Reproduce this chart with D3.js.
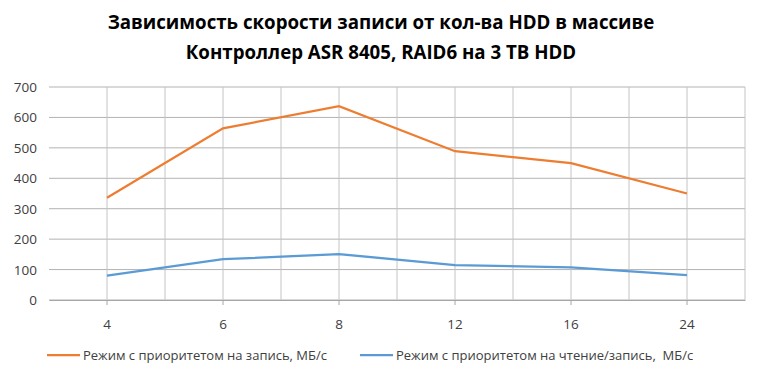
<!DOCTYPE html>
<html lang="ru">
  <head>
    <meta charset="utf-8">
    <script src="https://d3js.org/d3.v7.min.js"></script>
    <style>
      body { margin: 0; background: #fff; }
      text { font-family: "Open Sans", sans-serif; fill: #404040; }
    </style>
  </head>
  <body>
    <svg width="760" height="378"></svg>
    <script>
      // data
      var categories = ["4", "6", "8", "12", "16", "24"];
      var writeSpeed = [336, 564, 637, 489, 450, 350];
      var readWriteSpeed = [80, 134, 151, 115, 107, 82];
      var yTicks = [0, 100, 200, 300, 400, 500, 600, 700];
      var titleLines = ["Зависимость скорости записи от кол-ва HDD в массиве",
                        "Контроллер ASR 8405, RAID6 на 3 TB HDD"];
      var seriesNames = ["Режим с приоритетом на запись, МБ/с",
                         "Режим с приоритетом на чтение/запись,  МБ/с"];
      var colors = ["#ED7D31", "#5B9BD5"];

      var svg = d3.select("svg");
      // plot area
      var pLeft = 49, pRight = 745, pTop = 87, pBottom = 300;

      var x = d3.scaleBand().domain(categories).range([pLeft, pRight]);
      var y = d3.scaleLinear().domain([0, 700]).range([pBottom, pTop]);

      // title
      svg.selectAll(".title")
        .data(titleLines)
        .enter()
        .append("text")
        .attr("class", "title")
        .attr("x", 381)
        .attr("y", function (d, i) { return 29 + i * 30; })
        .attr("text-anchor", "middle")
        .style("font-size", "18.7px")
        .style("font-weight", "bold")
        .style("fill", "#000")
        .text(function (d) { return d; });

      // horizontal grid
      svg.append("g")
        .selectAll("line")
        .data(yTicks)
        .enter()
        .append("line")
        .attr("x1", pLeft).attr("x2", pRight)
        .attr("y1", function (d) { return y(d); })
        .attr("y2", function (d) { return y(d); })
        .style("stroke", "#b3b3b3");

      // vertical grid: at categories and between them
      var vGrid = [];
      categories.forEach(function (c) {
        vGrid.push(x(c) + x.bandwidth() / 2);
        vGrid.push(x(c) + x.bandwidth());
      });
      svg.append("g")
        .selectAll("line")
        .data(vGrid)
        .enter()
        .append("line")
        .attr("x1", function (d) { return d; })
        .attr("x2", function (d) { return d; })
        .attr("y1", pTop).attr("y2", pBottom)
        .style("stroke", "#c4c4c4");

      // y axis labels
      svg.append("g")
        .selectAll("text")
        .data(yTicks)
        .enter()
        .append("text")
        .attr("x", 37)
        .attr("y", function (d) { return y(d) + 5; })
        .attr("text-anchor", "end")
        .style("font-size", "13.5px")
        .text(function (d) { return d; });

      // x axis
      var xAxis = svg.append("g")
        .attr("transform", "translate(0," + pBottom + ")")
        .call(d3.axisBottom(x).tickSize(5).tickSizeOuter(0).tickPadding(14));
      xAxis.select(".domain").style("stroke", "#a6a6a6");
      xAxis.selectAll(".tick line").style("stroke", "#a6a6a6");
      xAxis.selectAll(".tick text")
        .style("font-size", "13.5px")
        .style("font-family", "'Open Sans', sans-serif")
        .style("fill", "#404040");

      // lines
      var line = d3.line()
        .x(function (d, i) { return x(categories[i]) + x.bandwidth() / 2; })
        .y(function (d) { return y(d); });

      [writeSpeed, readWriteSpeed].forEach(function (s, i) {
        svg.append("path")
          .datum(s)
          .attr("d", line)
          .style("fill", "none")
          .style("stroke", colors[i])
          .style("stroke-width", "2.25");
      });

      // legend
      var legendX = [47, 360];
      seriesNames.forEach(function (name, i) {
        svg.append("line")
          .attr("x1", legendX[i]).attr("x2", legendX[i] + 33)
          .attr("y1", 355).attr("y2", 355)
          .style("stroke", colors[i])
          .style("stroke-width", "2.25");
        svg.append("text")
          .attr("x", legendX[i] + 36)
          .attr("y", 360)
          .style("font-size", "13px")
          .style("white-space", "pre")
          .text(name);
      });
    </script>
  </body>
</html>
